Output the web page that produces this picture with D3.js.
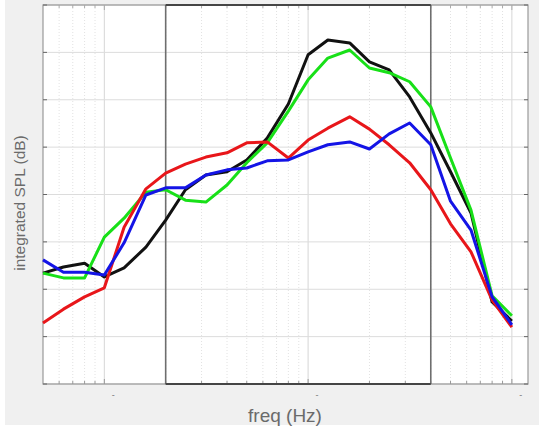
<!DOCTYPE html>
<html lang="en">
<head>
<meta charset="utf-8">
<script src="https://d3js.org/d3.v7.min.js"></script>
<style type="text/css">
body {
	margin: 0;
	background: #ffffff;
	font-family: "Liberation Sans", Arial, sans-serif;
}
</style>
</head>
<body>
<script type="text/javascript">

// 1/3 octave band centres (Hz)
var freqs = [50, 63, 80, 100, 125, 160, 200, 250, 315, 400, 500, 630, 800,
             1000, 1250, 1600, 2000, 2500, 3150, 4000, 5000, 6300, 8000, 10000];

// integrated SPL per band, one array per curve
var splBlack = [23.4, 24.7, 25.5, 22.6, 24.5, 28.9, 34.6, 41.0, 44.1, 44.8, 47.3, 51.9, 59.1,
                69.5, 72.6, 72.0, 68.0, 66.3, 60.6, 53.0, 44.8, 36.1, 17.3, 13.3];
var splGreen = [23.4, 22.4, 22.4, 31.0, 35.0, 40.5, 41.0, 38.8, 38.4, 42.0, 46.7, 50.9, 57.6,
                64.2, 68.8, 70.5, 66.7, 65.7, 63.8, 58.5, 47.7, 36.7, 18.6, 14.4];
var splRed   = [12.9, 15.8, 18.4, 20.3, 33.1, 41.2, 44.5, 46.4, 47.9, 48.8, 50.9, 51.1, 47.7,
                51.5, 54.0, 56.4, 53.8, 50.5, 46.7, 41.0, 33.8, 27.9, 17.7, 12.0];
var splBlue  = [26.2, 23.6, 23.6, 23.0, 29.8, 39.9, 41.4, 41.4, 44.1, 45.2, 45.6, 47.1, 47.3,
                49.0, 50.5, 51.1, 49.6, 52.8, 55.1, 50.5, 38.6, 32.5, 18.4, 12.5];

var seriesNames = ["black", "green", "red", "blue"];
var seriesColors = ["#111111", "#18e018", "#e8161a", "#1414e6"];
var seriesValues = [splBlack, splGreen, splRed, splBlue];

var yTicks = [0, 10, 20, 30, 40, 50, 60, 70, 80];
var decadeTicks = [100, 1000, 10000];
var bandEdges = [200, 4000];

var width = 539, height = 429;
var pLeft = 43, pRight = 528, pTop = 5, pBottom = 384;

var svg = d3.select("body").append("svg")
	.attr("width", width)
	.attr("height", height);

// figure background
svg.append("rect").attr("x", 0).attr("y", 0).attr("width", width).attr("height", height)
	.attr("fill", "#ffffff");
svg.append("rect").attr("x", 5).attr("y", 0).attr("width", width - 5).attr("height", 425)
	.attr("fill", "#f0f0f0");

var x = d3.scaleLog().domain([50, 12000]).range([pLeft, pRight]);
var y = d3.scaleLinear().domain([0, 80]).range([pBottom, pTop]);

// plot area
svg.append("rect")
	.attr("x", pLeft).attr("y", pTop)
	.attr("width", pRight - pLeft).attr("height", pBottom - pTop)
	.attr("fill", "#ffffff");

// minor vertical grid (dotted)
var minor = [];
[10, 100, 1000, 10000].forEach(function(d) {
	for (var m = 2; m <= 9; m++) {
		var f = d * m;
		if (f > 50 && f < 12000) minor.push(f);
	}
});

svg.append("g").selectAll("line")
	.data(minor)
	.enter().append("line")
	.attr("x1", function(d) { return x(d); })
	.attr("x2", function(d) { return x(d); })
	.attr("y1", pTop).attr("y2", pBottom)
	.attr("stroke", "#e2e2e2")
	.attr("stroke-width", 1)
	.attr("stroke-dasharray", "1,2");

// decade grid
svg.append("g").selectAll("line")
	.data(decadeTicks)
	.enter().append("line")
	.attr("x1", function(d) { return x(d); })
	.attr("x2", function(d) { return x(d); })
	.attr("y1", pTop).attr("y2", pBottom)
	.attr("stroke", "#d6d6d6")
	.attr("stroke-width", 1);

// horizontal grid
svg.append("g").selectAll("line")
	.data(yTicks)
	.enter().append("line")
	.attr("x1", pLeft).attr("x2", pRight)
	.attr("y1", function(d) { return y(d); })
	.attr("y2", function(d) { return y(d); })
	.attr("stroke", "#dcdcdc")
	.attr("stroke-width", 1);

// axes box
svg.append("rect")
	.attr("x", pLeft).attr("y", pTop)
	.attr("width", pRight - pLeft).attr("height", pBottom - pTop)
	.attr("fill", "none")
	.attr("stroke", "#999999")
	.attr("stroke-width", 1.2);

// inward y ticks, both sides
var tk = svg.append("g");
tk.selectAll("line.l")
	.data(yTicks)
	.enter().append("line")
	.attr("class", "l")
	.attr("x1", pLeft).attr("x2", pLeft + 4)
	.attr("y1", function(d) { return y(d); })
	.attr("y2", function(d) { return y(d); })
	.attr("stroke", "#666");
tk.selectAll("line.r")
	.data(yTicks)
	.enter().append("line")
	.attr("class", "r")
	.attr("x1", pRight - 4).attr("x2", pRight)
	.attr("y1", function(d) { return y(d); })
	.attr("y2", function(d) { return y(d); })
	.attr("stroke", "#666");

// inward x ticks, bottom and top
tk.selectAll("line.b")
	.data(minor.concat(decadeTicks))
	.enter().append("line")
	.attr("class", "b")
	.attr("x1", function(d) { return x(d); })
	.attr("x2", function(d) { return x(d); })
	.attr("y1", pBottom).attr("y2", function(d) { return decadeTicks.indexOf(d) >= 0 ? pBottom - 5 : pBottom - 3; })
	.attr("stroke", "#999");
tk.selectAll("line.t")
	.data(minor.concat(decadeTicks))
	.enter().append("line")
	.attr("class", "t")
	.attr("x1", function(d) { return x(d); })
	.attr("x2", function(d) { return x(d); })
	.attr("y1", pTop).attr("y2", function(d) { return decadeTicks.indexOf(d) >= 0 ? pTop + 5 : pTop + 3; })
	.attr("stroke", "#aaa");

// frequency band frame: grey sides, dark top and bottom
var bx0 = x(bandEdges[0]), bx1 = x(bandEdges[1]);
svg.append("g").selectAll("line")
	.data(bandEdges)
	.enter().append("line")
	.attr("x1", function(d) { return x(d); })
	.attr("x2", function(d) { return x(d); })
	.attr("y1", pTop).attr("y2", pBottom)
	.attr("stroke", "#6e6e6e")
	.attr("stroke-width", 1.6);
svg.append("g").selectAll("line")
	.data([pTop, pBottom])
	.enter().append("line")
	.attr("x1", bx0).attr("x2", bx1)
	.attr("y1", function(d) { return d; })
	.attr("y2", function(d) { return d; })
	.attr("stroke", "#454545")
	.attr("stroke-width", 2);

// curves
var line = d3.line()
	.x(function(d, i) { return x(freqs[i]); })
	.y(function(d) { return y(d); });

svg.append("g").selectAll("path")
	.data(seriesValues)
	.enter().append("path")
	.attr("d", line)
	.attr("fill", "none")
	.attr("stroke", function(d, i) { return seriesColors[i]; })
	.attr("stroke-width", 3)
	.attr("stroke-linejoin", "round");

// tick labels (unreadable in the source, just small dashes)
svg.append("g").selectAll("text")
	.data(decadeTicks)
	.enter().append("text")
	.attr("x", function(d) { return x(d) + 9; })
	.attr("y", 398)
	.attr("text-anchor", "middle")
	.attr("font-size", 9)
	.attr("fill", "#777")
	.text("-");

// axis labels
svg.append("text")
	.attr("x", 285)
	.attr("y", 422)
	.attr("text-anchor", "middle")
	.attr("font-size", 19)
	.attr("fill", "#6a6a6a")
	.text("freq (Hz)");

svg.append("text")
	.attr("transform", "translate(25,203) rotate(-90)")
	.attr("text-anchor", "middle")
	.attr("font-size", 15.5)
	.attr("fill", "#6a6a6a")
	.text("integrated SPL (dB)");

</script>
</body>
</html>
